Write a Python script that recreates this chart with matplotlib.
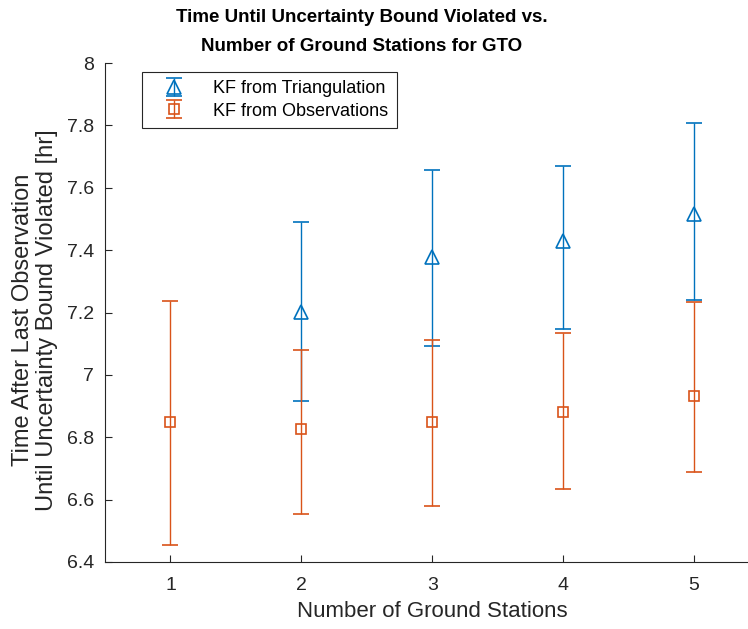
import numpy as np
import matplotlib
matplotlib.use("Agg")
import matplotlib.pyplot as plt

# 数据
stations = [1, 2, 3, 4, 5]
tri_x = [2, 3, 4, 5]
tri_mean = [7.202, 7.378, 7.430, 7.516]
tri_upper = [7.490, 7.657, 7.670, 7.808]
tri_lower = [6.917, 7.093, 7.147, 7.240]

obs_x = [1, 2, 3, 4, 5]
obs_mean = [6.849, 6.827, 6.850, 6.882, 6.933]
obs_upper = [7.236, 7.080, 7.112, 7.135, 7.234]
obs_lower = [6.455, 6.554, 6.580, 6.635, 6.689]

yticks = [6.4, 6.6, 6.8, 7, 7.2, 7.4, 7.6, 7.8, 8]
ytick_labels = ['6.4', '6.6', '6.8', '7', '7.2', '7.4', '7.6', '7.8', '8']

blue = '#0072BD'
orange = '#D95319'
axcol = '#262626'

plt.rcParams['font.family'] = ['Liberation Sans', 'DejaVu Sans']

W, H = 748, 629
fig = plt.figure(figsize=(W / 100, H / 100), dpi=100)
ax = fig.add_axes([105 / W, 1 - 562 / H, (759.5 - 105) / W, (562 - 63) / H])

def yerr(mean, lo, hi):
    m = np.array(mean)
    return [m - np.array(lo), np.array(hi) - m]

ax.errorbar(tri_x, tri_mean, yerr=yerr(tri_mean, tri_lower, tri_upper),
            fmt='^', color=blue, mfc='none', mec=blue, ms=10, mew=1.2,
            elinewidth=1, capsize=6, capthick=1.2, label='KF from Triangulation')
ax.errorbar(obs_x, obs_mean, yerr=yerr(obs_mean, obs_lower, obs_upper),
            fmt='s', color=orange, mfc='none', mec=orange, ms=7, mew=1.2,
            elinewidth=1, capsize=6, capthick=1.2, label='KF from Observations')

ax.set_xlim(0.5, 5.5)
ax.set_ylim(6.4, 8)
ax.set_xticks(stations)
ax.set_yticks(yticks)
ax.set_yticklabels(ytick_labels)

for s in ['top', 'right']:
    ax.spines[s].set_visible(False)
for s in ['left', 'bottom']:
    ax.spines[s].set_color(axcol)
    ax.spines[s].set_linewidth(0.8)
ax.tick_params(direction='in', length=5, width=0.8, color=axcol,
               labelcolor=axcol, labelsize=14, pad=8)
ax.tick_params(axis='x', pad=11)

ax.set_xlabel('Number of Ground Stations', fontsize=16, color=axcol, labelpad=5)
ax.set_ylabel('Time After Last Observation\nUntil Uncertainty Bound Violated [hr]',
              fontsize=17, color=axcol, linespacing=1.1)
ax.yaxis.set_label_coords((58 - 105) / 654.5, (562 - 320) / 499)

fig.text(362 / W, 1 - 32 / H, 'Time Until Uncertainty Bound Violated vs.\nNumber of Ground Stations for GTO',
         ha='center', va='center', fontsize=13.5, fontweight='bold', linespacing=1.85)

leg = ax.legend(loc='upper left', bbox_to_anchor=((142 - 105) / 654.5, (562 - 72) / 499),
                borderaxespad=0, fontsize=13, fancybox=False, framealpha=1,
                edgecolor=axcol, handlelength=2.6, labelspacing=0.3,
                borderpad=0.45, handletextpad=0.9)
leg.get_frame().set_linewidth(0.8)

fig.savefig('out.png', dpi=100)
